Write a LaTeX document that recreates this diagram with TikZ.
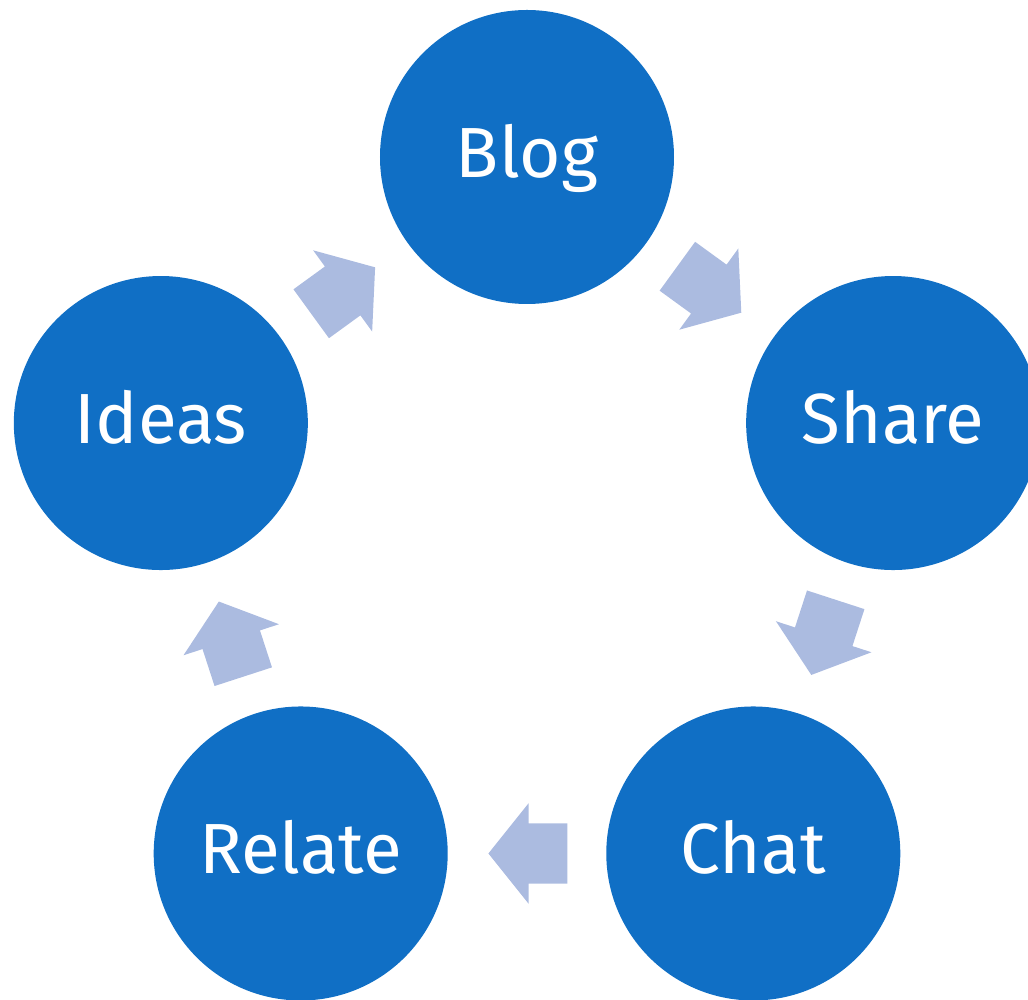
\documentclass[tikz,border=0pt]{standalone}
\usepackage{fontspec}
\setmainfont{Fira Sans}
\usetikzlibrary{calc,shapes.arrows}

\definecolor{stagefill}{RGB}{16,111,197}
\definecolor{flowfill}{RGB}{171,187,224}

\tikzset{
  stage/.style={circle, fill=stagefill, draw=none, minimum size=294pt, inner sep=0pt,
    text=white, font=\fontsize{71}{85}\selectfont, text height=49pt, text depth=8pt},
  flow/.style={single arrow, fill=flowfill, draw=none, inner sep=0pt,
    text height=30pt, text depth=30pt, minimum height=79pt,
    single arrow head extend=20pt, single arrow tip angle=102.7}
}

\begin{document}
\begin{tikzpicture}[x=1pt,y=1pt]

\useasboundingbox (-527,-458) rectangle (501,542);

\foreach \ang/\stagename/\stagetext in {
  90/blog/Blog,
  18/share/Share,
  -54/chat/Chat,
  -126/relate/Relate,
  162/ideas/Ideas}
    \node[stage] (\stagename) at (\ang:385) {\stagetext};

\foreach \from/\to in {blog/share,share/chat,chat/relate,relate/ideas,ideas/blog}
    \path let \p1=($(\to)-(\from)$), \n1={atan2(\y1,\x1)} in
      node[flow, rotate=\n1] (\from-\to) at ($(\from)!0.5!(\to) + (\n1+180:13)$) {};

\end{tikzpicture}
\end{document}
